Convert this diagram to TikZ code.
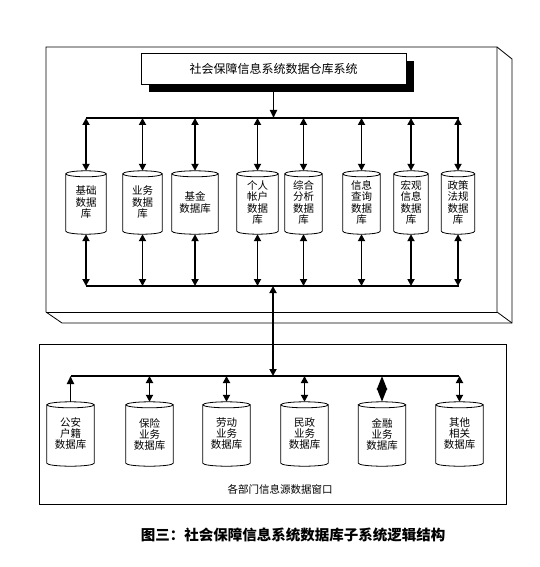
\documentclass[tikz,border=0pt]{standalone}
\usepackage{fontspec}
\setmainfont{Noto Sans CJK SC}
\usetikzlibrary{arrows.meta,shadows,calc}
\begin{document}
\begin{tikzpicture}[x=1pt,y=-1pt,
  bus/.style={line width=1.8pt},
  link/.style={line width=1.8pt,{Triangle[width=7pt,length=7pt]}-{Triangle[width=7pt,length=7pt]}},
  uplink/.style={line width=1.8pt,-{Triangle[width=7pt,length=8pt]}},
  diatip/.style={line width=1.8pt,-{Triangle[width=10pt,length=13.5pt]}},
  frame/.style={line width=0.8pt},
  db/.style={rectangle,inner sep=0pt,align=center,font=\fontsize{10.5}{11.5}\selectfont,minimum height=63pt},
  ldb/.style={rectangle,inner sep=0pt,align=center,font=\fontsize{10.5}{11}\selectfont,minimum height=64pt,minimum width=47pt},
]
\useasboundingbox (0,0) rectangle (539,567);
% bevelled outer frame
\draw[frame] (46,47) -- (497,47) -- (512,59) -- (512,323) -- (62,323) -- (46,312) -- cycle;
\draw[frame] (497,47) -- (497,312) -- (512,323);
\draw[frame] (46,312) -- (497,312);
% title
\node[draw,frame,fill=white,minimum width=265pt,minimum height=31pt,inner sep=0pt,
  font=\fontsize{12}{12}\selectfont,
  drop shadow={shadow xshift=8pt,shadow yshift=-8pt,fill=black,opacity=1}] (title) at (273.5,68.5) {社会保障信息系统数据仓库系统};
% upper databases
\node[db,minimum width=40pt] (u1) at (86,202.5) {基础\\数据\\库};
\node[db,minimum width=39pt] (u2) at (142.5,202.5) {业务\\数据\\库};
\node[db,minimum width=46pt] (u3) at (195,202.5) {基金\\数据库};
\node[db,minimum width=41pt] (u4) at (257.5,202.5) {个人\\帐户\\数据\\库};
\node[db,minimum width=37pt] (u5) at (303.5,202.5) {综合\\分析\\数据\\库};
\node[db,minimum width=37pt] (u6) at (361.5,202.5) {信息\\查询\\数据\\库};
\node[db,minimum width=34pt] (u7) at (411,202.5) {宏观\\信息\\数据\\库};
\node[db,minimum width=33pt] (u8) at (458,202.5) {政策\\法规\\数据\\库};
% lower box
\node[draw,frame,minimum width=467pt,minimum height=160pt,inner sep=0pt] (lowbox) at (272.5,424) {};
\node[font=\fontsize{10.5}{11}\selectfont,inner sep=0pt] (lowlabel) at (280,489) {各部门信息源数据窗口};
% lower databases
\node[ldb] (l1) at (70.5,434) {公安\\户籍\\数据库};
\node[ldb] (l2) at (149.5,434) {保险\\业务\\数据库};
\node[ldb] (l3) at (226.5,434) {劳动\\业务\\数据库};
\node[ldb] (l4) at (304.5,434) {民政\\业务\\数据库};
\node[ldb] (l5) at (382,434) {金融\\业务\\数据库};
\node[ldb] (l6) at (459.5,434) {其他\\相关\\数据库};
% cylinder outlines
\foreach \nm in {u1,u2,u3,u4,u5,u6,u7,u8,l1,l2,l3,l4,l5,l6}{
  \draw[frame] let \p1=(\nm.north west),\p2=(\nm.north east) in
    ($(\nm.north)+(0,3)$) ellipse [x radius={0.5*(\x2-\x1)}, y radius=3pt]
    ($(\nm.north west)+(0,3)$) -- ($(\nm.south west)+(0,-3)$)
    arc[start angle=180,end angle=360,x radius={0.5*(\x2-\x1)},y radius=3pt]
    -- ($(\nm.north east)+(0,3)$);
}
% buses
\coordinate (tbL) at (86,118);
\coordinate (tbR) at (459,118);
\coordinate (bbL) at (86,286);
\coordinate (bbR) at (459,286);
\coordinate (lbL) at (71,376);
\coordinate (lbR) at (459,376);
\coordinate (midtop) at (273,286);
\coordinate (midbot) at (273,376);
\coordinate (diamid) at (382,389);
\draw[bus] (tbL) -- (tbR);
\draw[bus] (bbL) -- (bbR);
\draw[bus] (lbL) -- (lbR);
\draw[bus,-{Triangle[width=7pt,length=8pt]}] (title.south) -- (title.south |- tbL);
\foreach \nm in {u1,u2,u3,u4,u5,u6,u7,u8}{
  \draw[link] (\nm.north |- tbL) -- (\nm.north);
  \draw[link] (\nm.south) -- (\nm.south |- bbL);
}
\draw[link] (midtop) -- (midbot);
\draw[uplink] (l1.north) -- (l1.north |- lbL);
\foreach \nm in {l2,l3,l4,l6}{
  \draw[link] (\nm.north |- lbL) -- (\nm.north);
}
\draw[diatip] (diamid) -- (l5.north |- lbL);
\draw[diatip] (diamid) -- (l5.north);
% caption
\node[font=\fontsize{14.5}{14.5}\selectfont\bfseries,inner sep=0pt] (caption) at (293,535) {图三：社会保障信息系统数据库子系统逻辑结构};
\end{tikzpicture}
\end{document}
